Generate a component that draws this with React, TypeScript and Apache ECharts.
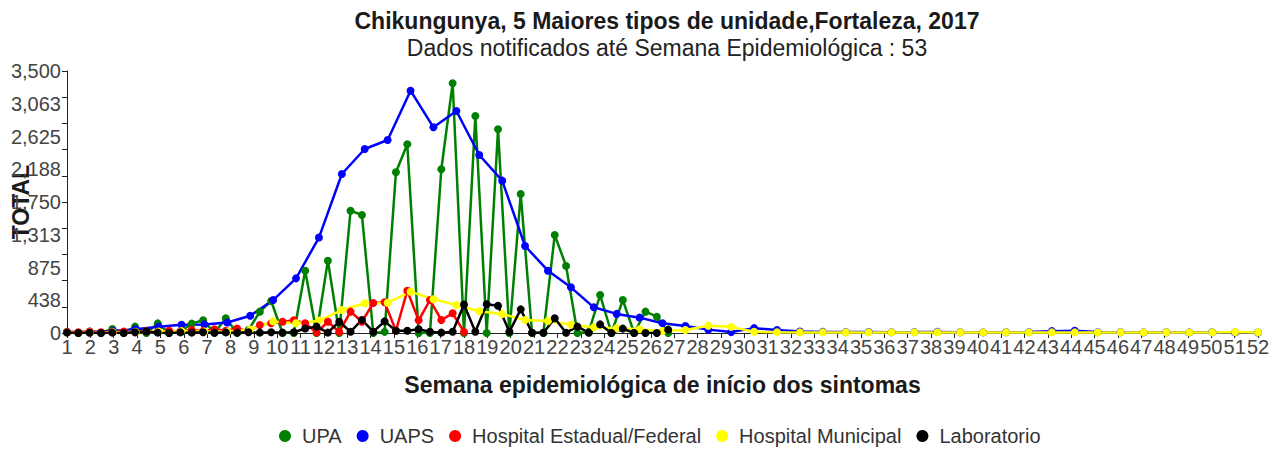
import React, { useEffect, useRef } from "react";
import * as echarts from "echarts";

// Week labels shown on the x axis
const weekLabels = [
  "1","2","3","4","5","6","7","8","9","10","11","12","13","14","15","16","17","18","19","20",
  "21","22","23","24","25","26","27","28","29","30","31","32","33","34","35","36","37","38","39","40",
  "41","42","43","44","45","46","47","48","49","50","51","52",
];

// UPA (54 points, on the half-step slot axis)
const upa = [
  10, 0, 18, 0, 53, 0, 85, 0, 129, 0, 20, 125, 170, 0, 196, 0, 40, 285, 428, 0,
  0, 832, 0, 966, 0, 1634, 1576, 0, 15, 2147, 2521, 0, 0, 2187, 3336, 0, 2899, 0, 2721, 0,
  1857, 0, 0, 1309, 895, 0, 15, 507, 0, 441, 0, 285, 218, 0,
];

// UAPS (53 points)
const uaps = [
  15, 12, 27, 49, 85, 110, 115, 140, 230, 440, 730, 1275, 2124, 2458, 2578, 3237, 2748, 2966, 2378, 2035,
  1162, 832, 610, 343, 255, 205, 130, 94, 45, 12, 65, 40, 20, 15, 12, 14, 10, 12, 15, 10,
  8, 10, 12, 25, 30, 12, 10, 8, 10, 8, 10, 8, 6,
];

// Hospital Estadual/Federal (36 points, half-step slots)
const hospEstadual = [
  15, 10, 20, 10, 15, 20, 10, 25, 15, 30, 20, 40, 25, 50, 30, 60, 20, 107, 130, 150,
  170, 130, 5, 150, 15, 285, 150, 400, 410, 30, 565, 170, 440, 174, 263, 15,
];

// Hospital Municipal (53 points)
const hospMunicipal = [
  5, 5, 10, 15, 20, 25, 20, 20, 45, 155, 130, 165, 307, 397, 405, 552, 450, 374, 290, 255,
  174, 160, 110, 75, 65, 50, 27, 40, 98, 82, 17, 10, 8, 8, 8, 8, 8, 8, 8, 8,
  8, 8, 8, 8, 8, 8, 8, 8, 8, 8, 8, 12, 8,
];

// Laboratorio (54 points, half-step slots)
const laboratorio = [
  5, 0, 3, 0, 5, 0, 10, 20, 5, 0, 8, 5, 10, 5, 8, 5, 10, 5, 10, 5,
  10, 60, 85, 5, 151, 17, 174, 17, 155, 30, 30, 49, 17, 5, 17, 380, 17, 383, 365, 17,
  316, 4, 4, 196, 4, 85, 4, 115, 0, 58, 0, 0, 0, 45,
];

const fullSlots = Array.from({ length: 53 }, (_, i) => String(i + 1));
const halfSlots = Array.from({ length: 106 }, (_, i) => String(i + 1));

const FONT = 'Arial, "Liberation Sans", sans-serif';

export default function App() {
  const ref = useRef<HTMLDivElement>(null);
  useEffect(() => {
    if (!ref.current) return;
    const chart = echarts.init(ref.current, undefined, { renderer: "svg" });
    const mk = (name: string, data: number[], color: string, xAxisIndex: number) => ({
      name,
      type: "line",
      data,
      xAxisIndex,
      yAxisIndex: 0,
      symbol: "circle",
      symbolSize: 8,
      showSymbol: true,
      showAllSymbol: true,
      lineStyle: { color, width: 2.5 },
      itemStyle: { color },
    });
    chart.setOption({
      animation: false,
      textStyle: { fontFamily: FONT },
      title: {
        text: "Chikungunya, 5 Maiores tipos de unidade,Fortaleza, 2017",
        subtext: "Dados notificados até Semana Epidemiológica : 53",
        left: 662,
        textAlign: "center",
        top: 4,
        itemGap: 4,
        textStyle: { fontSize: 23, fontWeight: "bold", color: "#1a1a1a", fontFamily: FONT },
        subtextStyle: { fontSize: 23, color: "#222", fontFamily: FONT },
      },
      legend: {
        left: 274,
        top: 421,
        icon: "circle",
        itemWidth: 24,
        itemHeight: 12,
        itemGap: 15,
        textStyle: { fontSize: 20, color: "#333", fontFamily: FONT },
        data: ["UPA", "UAPS", "Hospital Estadual/Federal", "Hospital Municipal", "Laboratorio"],
      },
      grid: { left: 67, right: 24, top: 71, bottom: 120, containLabel: false, outerBoundsMode: "none" },
      xAxis: [
        {
          type: "category",
          data: weekLabels,
          boundaryGap: false,
          name: "Semana epidemiológica de início dos sintomas",
          nameLocation: "middle",
          nameGap: 40,
          nameMoveOverlap: false,
          nameTextStyle: { fontSize: 23, fontWeight: "bold", color: "#1a1a1a", fontFamily: FONT },
          axisLine: { lineStyle: { color: "#222", width: 1 } },
          axisTick: { show: true, length: 5, interval: 0, lineStyle: { color: "#222" } },
          axisLabel: { interval: 0, fontSize: 20, color: "#444", margin: 4, fontFamily: FONT },
          splitLine: { show: false },
        },
        { type: "category", data: fullSlots, boundaryGap: false, show: false },
        { type: "category", data: halfSlots, boundaryGap: false, show: false },
      ],
      yAxis: [
        {
          type: "value",
          min: 0,
          max: 3500,
          interval: 437.5,
          name: "TOTAL",
          nameLocation: "middle",
          nameGap: 35,
          nameMoveOverlap: false,
          nameTextStyle: { fontSize: 23, fontWeight: "bold", color: "#1a1a1a", fontFamily: FONT },
          axisLine: { show: true, lineStyle: { color: "#222", width: 1 } },
          axisTick: { show: false },
          axisLabel: {
            fontSize: 20,
            color: "#444",
            margin: 6,
            fontFamily: FONT,
            formatter: (v: number) => Math.round(v).toLocaleString("en-US"),
          },
          splitLine: { show: false },
        },
        {
          type: "value",
          min: 0,
          max: 3500,
          interval: 350,
          position: "left",
          axisLine: { show: false },
          axisTick: { show: true, length: 5, lineStyle: { color: "#222" } },
          axisLabel: { show: false },
          splitLine: { show: false },
        },
      ],
      series: [
        mk("UPA", upa, "#008000", 2),
        mk("UAPS", uaps, "#0000ff", 1),
        mk("Hospital Estadual/Federal", hospEstadual, "#ff0000", 2),
        mk("Hospital Municipal", hospMunicipal, "#ffff00", 1),
        mk("Laboratorio", laboratorio, "#000000", 2),
      ],
    });
    return () => chart.dispose();
  }, []);
  return (
    <div
      ref={ref}
      style={{ position: "fixed", left: 0, top: 0, width: 1282, height: 453, background: "#fff" }}
    />
  );
}
